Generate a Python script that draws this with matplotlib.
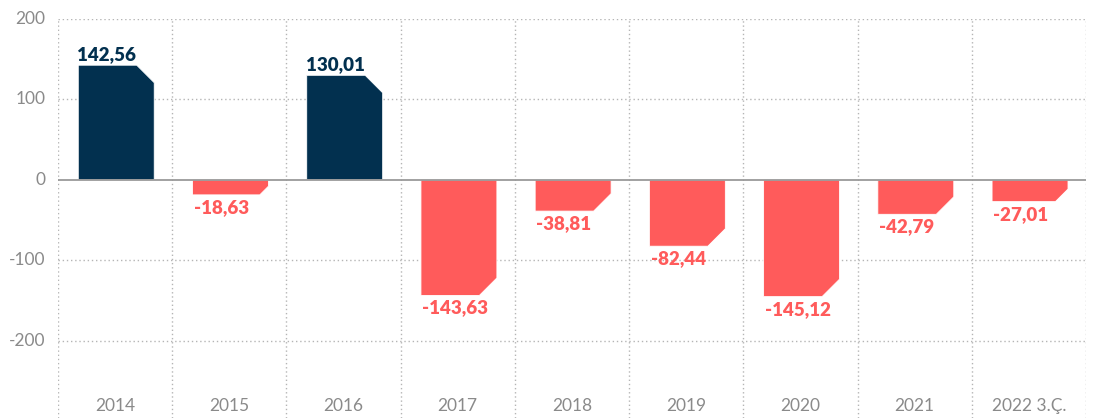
import matplotlib
matplotlib.use("Agg")
import matplotlib.pyplot as plt
from matplotlib.patches import Polygon

categories = ["2014", "2015", "2016", "2017", "2018", "2019", "2020", "2021", "2022 3.Ç."]
values = [142.56, -18.63, 130.01, -143.63, -38.81, -82.44, -145.12, -42.79, -27.01]
value_labels = ["142,56", "-18,63", "130,01", "-143,63", "-38,81", "-82,44", "-145,12", "-42,79", "-27,01"]
yticks = [200, 100, 0, -100, -200]
ytick_labels = ["200", "100", "0", "-100", "-200"]

NAVY = "#02304f"
RED = "#ff5b5b"
GRID = "#b5b5b5"
TICK = "#8a8a8a"

W, H = 1094, 418
fig = plt.figure(figsize=(W / 100, H / 100), dpi=100)
ax = fig.add_axes([58 / W, 0, (1086 - 58) / W, 1 - 19 / H])
ax.set_xlim(-0.5, len(categories) - 0.5)
ax.set_ylim(-296, 200)
for s in ax.spines.values():
    s.set_visible(False)
ax.set_xticks([])
ax.set_yticks([])

# grid
for yv in yticks:
    if yv == 0:
        continue
    ax.axhline(yv, color=GRID, lw=1.0, ls=(0, (1, 2)), zorder=0)
for i in range(len(categories) + 1):
    ax.axvline(i - 0.5, color=GRID, lw=1.0, ls=(0, (1, 2)), zorder=0)
ax.axhline(0, color="#9a9a9a", lw=1.3, zorder=4)

fig.canvas.draw()
# pixel scale
px_x = ax.transData.transform((1, 0))[0] - ax.transData.transform((0, 0))[0]
px_y = ax.transData.transform((0, 1))[1] - ax.transData.transform((0, 0))[1]

bw = 0.665
offset = 0.01
for i, v in enumerate(values):
    color = NAVY if v > 0 else RED
    x0 = i + offset - bw / 2
    x1 = i + offset + bw / 2
    h_px = abs(v) * px_y
    cut_px = min(17.5, 0.58 * h_px)
    cx = cut_px / px_x
    cy = cut_px / px_y * (1 if v > 0 else -1)
    verts = [(x0, 0), (x0, v), (x1 - cx, v), (x1, v - cy), (x1, 0)]
    ax.add_patch(Polygon(verts, closed=True, facecolor=color, edgecolor="white",
                         lw=0.6, zorder=3))
    if v > 0:
        ax.text(x0 - 0.01, v + 3, value_labels[i], ha="left", va="bottom",
                fontsize=13.5, fontweight="heavy", color=color, family="Lato", zorder=5)
    else:
        ax.text(x0 + 0.01, v - 5, value_labels[i], ha="left", va="top",
                fontsize=13.5, fontweight="heavy", color=color, family="Lato", zorder=5)

for yv, lab in zip(yticks, ytick_labels):
    ax.text(-0.61, yv, lab, ha="right", va="center", fontsize=12.5, color=TICK,
            family="Lato", clip_on=False)

for i, c in enumerate(categories):
    ax.text(i, -281, c, ha="center", va="center", fontsize=12.5, color=TICK, family="Lato")

fig.savefig("out.png", dpi=100)
